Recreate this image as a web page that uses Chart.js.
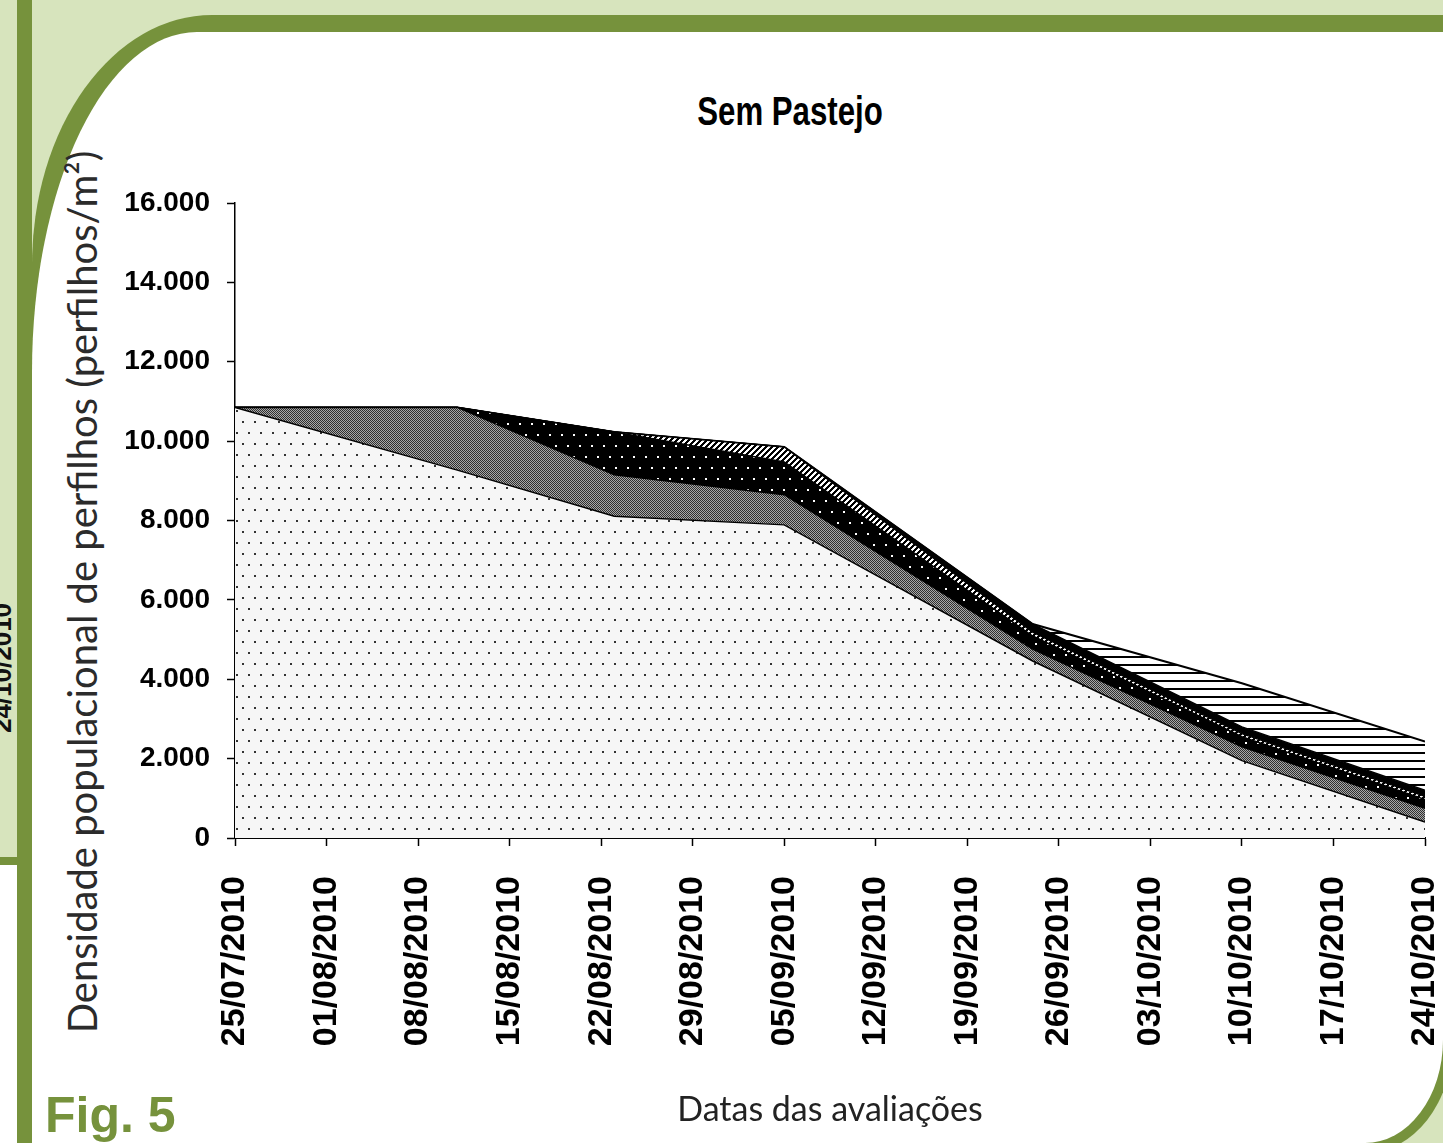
<!DOCTYPE html>
<html>
<head>
<meta charset="utf-8">
<script src="https://cdn.jsdelivr.net/npm/chart.js@4.4.0/dist/chart.umd.min.js"></script>
<style>
  html, body { margin: 0; padding: 0; }
  body { width: 1443px; height: 1143px; position: relative; overflow: hidden; background: #d7e4bd; font-family: 'Liberation Sans', Arial, sans-serif; }
  .abs { position: absolute; }
  #frame { left: 32px; top: 15px; width: 1421px; height: 1138px; background: #76923c; border-radius: 180px 0 88px 0 / 250px 0 113px 0; }
  #panel { left: 32px; top: 32px; width: 1411px; height: 1111px; background: #fff; border-radius: 165px 0 78px 0 / 340px 0 103px 0; }
  #bar { left: 17px; top: 0; width: 15px; height: 1143px; background: #76923c; }
  #stripLine { left: 0; top: 857px; width: 17px; height: 8px; background: #76923c; }
  #stripWhite { left: 0; top: 865px; width: 17px; height: 278px; background: #fff; }
  #frag { left: 2px; top: 668px; font: bold 26px 'Liberation Sans', Arial, sans-serif; color: #111; white-space: nowrap; transform: translate(-50%, -50%) rotate(-90deg); }
  #wrap { left: 0; top: 0; width: 1443px; height: 1143px; }
  #title { left: 790px; top: 89px; font: bold 40px 'Liberation Sans', Arial, sans-serif; color: #000; white-space: nowrap; transform: translateX(-50%) scaleX(0.78); }
  #ytitle { left: 82px; top: 592px; font: 40px Lato, 'Open Sans', sans-serif; color: #2b2b2b; white-space: nowrap; transform: translate(-50%, -50%) rotate(-90deg); }
  #fig { left: 45px; top: 1086px; font: bold 50px 'Liberation Sans', Arial, sans-serif; color: #76923c; }
</style>
</head>
<body>
<div id="frag" class="abs">24/10/2010</div>
<div id="stripLine" class="abs"></div>
<div id="stripWhite" class="abs"></div>
<div id="bar" class="abs"></div>
<div id="frame" class="abs"></div>
<div id="panel" class="abs"></div>
<div id="title" class="abs">Sem Pastejo</div>
<div id="ytitle" class="abs">Densidade populacional de perfilhos (perfilhos/m²)</div>
<div id="fig" class="abs">Fig. 5</div>
<div id="wrap" class="abs"><canvas id="myChart"></canvas></div>

<script>
// dates when the tillers were counted
const sampleDates = ['25/07/2010', '11/08/2010', '23/08/2010', '05/09/2010', '24/09/2010', '10/10/2010', '24/10/2010'];
// weekly tick labels on the x axis
const tickDates = ['25/07/2010', '01/08/2010', '08/08/2010', '15/08/2010', '22/08/2010', '29/08/2010', '05/09/2010',
  '12/09/2010', '19/09/2010', '26/09/2010', '03/10/2010', '10/10/2010', '17/10/2010', '24/10/2010'];

// tiller density per generation (perfilhos/m2), stacked
const geracao1 = [10850, 9270, 8110, 7890, 4460, 1950, 400];
const geracao2 = [0, 1580, 1040, 760, 300, 350, 350];
const geracao3 = [0, 0, 1080, 825, 330, 250, 220];
const geracao4 = [0, 0, 0, 380, 100, 80, 80];
const geracao5 = [0, 0, 0, 0, 200, 170, 150];
const geracao6 = [0, 0, 0, 0, 0, 1100, 1230];
const seriesNames = ['1ª geração', '2ª geração', '3ª geração', '4ª geração', '5ª geração', '6ª geração'];

function dayOf(s) {
  const [d, m, y] = s.split('/').map(Number);
  return (Date.UTC(y, m - 1, d) - Date.UTC(2010, 6, 25)) / 86400000;
}

function makePattern(w, h, draw) {
  const c = document.createElement('canvas');
  c.width = w;
  c.height = h;
  const g = c.getContext('2d');
  draw(g, w, h);
  return g.createPattern(c, 'repeat');
}

// excel style fills
const dotFill = makePattern(12, 22, (g, w, h) => {
  g.fillStyle = '#f6f6f6'; g.fillRect(0, 0, w, h);
  g.fillStyle = '#333'; g.fillRect(2, 3, 2, 2); g.fillRect(8, 14, 2, 2);
});
const grayFill = makePattern(2, 2, (g) => {
  g.fillStyle = '#a8a8a8'; g.fillRect(0, 0, 2, 2);
  g.fillStyle = '#303030'; g.fillRect(0, 0, 1, 1); g.fillRect(1, 1, 1, 1);
});
const darkDotFill = makePattern(12, 22, (g, w, h) => {
  g.fillStyle = '#000'; g.fillRect(0, 0, w, h);
  g.fillStyle = '#fff'; g.fillRect(3, 5, 2, 2); g.fillRect(9, 16, 2, 2);
});
const diagFill = makePattern(6, 6, (g) => {
  g.fillStyle = '#fff'; g.fillRect(0, 0, 6, 6);
  g.fillStyle = '#000';
  for (let y = 0; y < 6; y++) {
    for (let k = 0; k < 3; k++) g.fillRect((5 - y + k + 6) % 6, y, 1, 1);
  }
});
const lineFill = makePattern(4, 8, (g) => {
  g.fillStyle = '#fff'; g.fillRect(0, 0, 4, 8);
  g.fillStyle = '#000'; g.fillRect(0, 0, 4, 2);
});

const fills = [dotFill, grayFill, darkDotFill, diagFill, '#000', lineFill];
const series = [geracao1, geracao2, geracao3, geracao4, geracao5, geracao6];

const datasets = series.map((vals, i) => ({
  label: seriesNames[i],
  data: vals.map((v, j) => ({ x: dayOf(sampleDates[j]), y: v })),
  backgroundColor: fills[i],
  borderColor: '#000',
  borderWidth: i === 5 ? 2 : 1.5,
  fill: i === 0 ? 'origin' : '-1',
  pointRadius: 0,
  tension: 0
}));

const config = {
  type: 'line',
  data: { datasets },
  options: {
    responsive: true,
    maintainAspectRatio: false,
    animation: false,
    layout: { padding: { left: 0, right: 18, top: 203, bottom: 0 } },
    plugins: {
      legend: { display: false },
      tooltip: { enabled: false }
    },
    scales: {
      x: {
        type: 'linear',
        min: 0,
        max: 91,
        afterFit: (scale) => {
          scale.height = 305;
          scale.paddingLeft = 0;
          scale.paddingRight = 0;
        },
        grid: { drawOnChartArea: false, drawTicks: true, tickLength: 8, color: '#000', tickWidth: 1.5 },
        border: { display: true, color: '#000', width: 2 },
        ticks: {
          stepSize: 7,
          autoSkip: false,
          minRotation: 90,
          maxRotation: 90,
          padding: 30,
          color: '#000',
          font: { family: "'Liberation Sans', Arial, sans-serif", size: 34, weight: 'bold' },
          callback: (v) => tickDates[v / 7]
        },
        title: {
          display: true,
          text: 'Datas das avaliações',
          color: '#222',
          font: { family: "Lato, 'Open Sans', sans-serif", size: 34 },
          padding: { top: 0, bottom: 13 }
        }
      },
      y: {
        stacked: true,
        min: 0,
        max: 16000,
        afterFit: (scale) => { scale.width = 235; },
        grid: { drawOnChartArea: false, drawTicks: true, tickLength: 8, color: '#000', tickWidth: 1.5 },
        border: { display: true, color: '#000', width: 1.5 },
        ticks: {
          stepSize: 2000,
          padding: 17,
          color: '#000',
          font: { family: "'Liberation Sans', Arial, sans-serif", size: 28, weight: 'bold' },
          callback: (v) => v === 0 ? '0' : (v / 1000).toFixed(3)
        }
      }
    }
  }
};

const myChart = new Chart(document.getElementById('myChart'), config);
</script>
</body>
</html>
